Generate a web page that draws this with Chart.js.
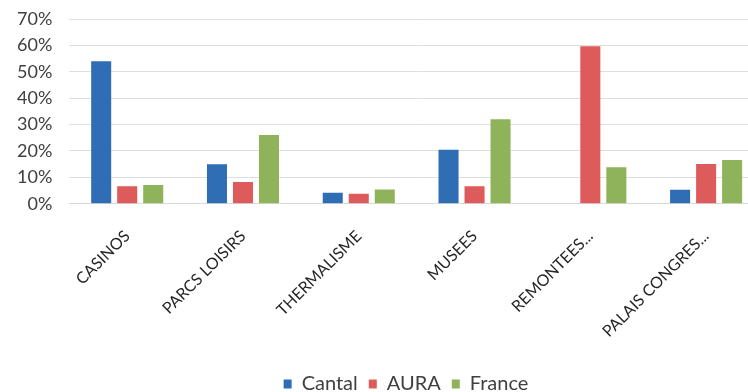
<!DOCTYPE html>
<html>
<head>
<meta charset="utf-8">
<script src="https://cdn.jsdelivr.net/npm/chart.js@4/dist/chart.umd.min.js"></script>
<style>
  html, body { margin: 0; padding: 0; background: #fff; overflow: hidden; }
  #wrap { width: 764px; height: 392px; position: relative; }
</style>
</head>
<body>
<div id="wrap"><canvas id="myChart"></canvas></div>
<script>
// categories and series (percent)
const categories = ["CASINOS", "PARCS LOISIRS", "THERMALISME", "MUSEES", "REMONTEES...", "PALAIS CONGRES..."];
const cantal = [54, 15, 4.2, 20.5, 0, 5.3];
const aura = [6.6, 8.2, 3.8, 6.6, 59.7, 15.1];
const france = [7.1, 26, 5.4, 32, 13.8, 16.6];
const yTicks = [0, 10, 20, 30, 40, 50, 60, 70];

// legend is not centred on the canvas in the picture, and sits a bit lower
const legendShift = {
  id: "legendShift",
  afterUpdate(chart) {
    const dx = 24, dy = 12;
    chart.legend.left += dx;
    chart.legend.right += dx;
    chart.legend.top += dy;
    chart.legend.bottom += dy;
  }
};

new Chart("myChart", {
  type: "bar",
  data: {
    labels: categories,
    datasets: [{
      label: "Cantal",
      data: cantal,
      backgroundColor: "#2f6db5"
    }, {
      label: "AURA",
      data: aura,
      backgroundColor: "#de5b5b"
    }, {
      label: "France",
      data: france,
      backgroundColor: "#8fb35a"
    }]
  },
  options: {
    responsive: true,
    maintainAspectRatio: false,
    animation: false,
    categoryPercentage: 0.674,
    barPercentage: 0.77,
    layout: { padding: { left: 0, top: 19, right: 0, bottom: 0 } },
    plugins: {
      tooltip: { enabled: false },
      legend: {
        display: true,
        position: "bottom",
        labels: {
          boxWidth: 8,
          boxHeight: 9,
          padding: 11,
          color: "#404040",
          font: { family: "Lato", size: 20 }
        }
      }
    },
    scales: {
      x: {
        grid: { display: false, drawTicks: false },
        border: { display: true, color: "#d9d9d9" },
        afterFit(scale) {
          scale.paddingLeft = 0;
          scale.paddingRight = 0;
          scale.height -= 13;
        },
        ticks: {
          minRotation: 45,
          maxRotation: 45,
          autoSkip: false,
          padding: 23,
          color: "#262626",
          font: { family: "Lato", size: 16 }
        }
      },
      y: {
        min: 0,
        max: 70,
        afterBuildTicks(scale) {
          scale.ticks = yTicks.map(v => ({ value: v }));
        },
        afterFit(scale) {
          scale.paddingTop = 0;
          scale.paddingBottom = 0;
        },
        grid: { color: "#dedede", drawTicks: false },
        border: { display: false },
        ticks: {
          padding: 17,
          autoSkip: false,
          color: "#404040",
          font: { family: "Lato", size: 18 },
          callback: v => v + "%"
        }
      }
    }
  },
  plugins: [legendShift]
});
</script>
</body>
</html>
